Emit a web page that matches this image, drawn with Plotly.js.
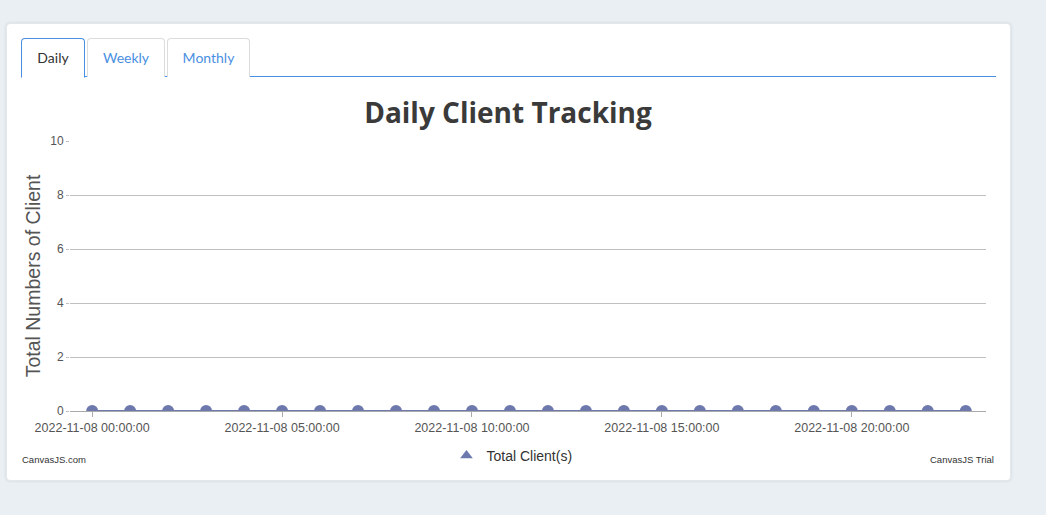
<!DOCTYPE html>
<html>
<head>
<meta charset="utf-8">
<script src="https://cdn.plot.ly/plotly-3.0.1.min.js"></script>
<style>
  html, body { margin:0; padding:0; width:1046px; height:515px; background:#e9eff3; overflow:hidden; font-family:"Lato","Open Sans",sans-serif; }
  #card { position:absolute; left:6px; top:23px; width:1005px; height:458px; background:#fff; border-radius:4px; box-shadow:0 0 3px rgba(0,0,0,0.12); border:1px solid #e3e8ec; box-sizing:border-box; }
  .tab { position:absolute; top:38px; height:39px; box-sizing:border-box; border:1px solid #dcdcdc; border-bottom:none; border-radius:4px 4px 0 0; font-size:14px; color:#4a90e2; text-align:center; line-height:38px; background:#fff; }
  .tab.active { border:1px solid #4a90e2; border-bottom:1px solid #fff; color:#333; z-index:2; height:40px; }
  #tabline { position:absolute; left:21px; top:76px; width:975px; height:1px; background:#4a90e2; }
  #chart { position:absolute; left:20px; top:80px; width:976px; height:400px; }
</style>
</head>
<body>
<div id="card"></div>
<div id="tabline"></div>
<div class="tab active" style="left:21px;width:64px;">Daily</div>
<div class="tab" style="left:87px;width:78px;">Weekly</div>
<div class="tab" style="left:167px;width:83px;">Monthly</div>
<div id="chart"></div>
<script>
const hours = ["2022-11-08 00:00:00","2022-11-08 01:00:00","2022-11-08 02:00:00","2022-11-08 03:00:00",
  "2022-11-08 04:00:00","2022-11-08 05:00:00","2022-11-08 06:00:00","2022-11-08 07:00:00",
  "2022-11-08 08:00:00","2022-11-08 09:00:00","2022-11-08 10:00:00","2022-11-08 11:00:00",
  "2022-11-08 12:00:00","2022-11-08 13:00:00","2022-11-08 14:00:00","2022-11-08 15:00:00",
  "2022-11-08 16:00:00","2022-11-08 17:00:00","2022-11-08 18:00:00","2022-11-08 19:00:00",
  "2022-11-08 20:00:00","2022-11-08 21:00:00","2022-11-08 22:00:00","2022-11-08 23:00:00"];
const totalClients = [0,0,0,0,0,0,0,0,0,0,0,0,0,0,0,0,0,0,0,0,0,0,0,0];
const seriesName = "Total Client(s)";
const chartTitle = "Daily Client Tracking";
const yTitle = "Total Numbers of Client";
const xRange = ["2022-11-07 23:25:00", "2022-11-08 23:32:00"];
const yRange = [0, 10];

const color = "#6D78AD";
const traces = [
  { x: hours, y: totalClients, type: "scatter", mode: "lines+markers", name: seriesName,
    line: { color: color, width: 2 }, marker: { color: color, size: 12, symbol: "circle" },
    showlegend: false, cliponaxis: true },
  { x: [hours[0]], y: [null], type: "scatter", mode: "markers", name: seriesName,
    marker: { color: color, size: 11, symbol: "triangle-up" }, showlegend: true }
];
const layout = {
  width: 976, height: 400,
  margin: { l: 50, r: 10, t: 61, b: 69, autoexpand: false },
  paper_bgcolor: "rgba(0,0,0,0)", plot_bgcolor: "rgba(0,0,0,0)",
  font: { family: "Liberation Sans, Arial, sans-serif", color: "#555", size: 12 },
  title: { text: chartTitle, x: 0.5, xanchor: "center", yref: "container", y: 1 - 33/400, yanchor: "middle",
    font: { family: "Open Sans, sans-serif", size: 28, color: "#3a3a3a", weight: 700 } },
  xaxis: { type: "date", range: xRange, tick0: "2022-11-08 00:00:00", dtick: 18000000,
    tickformat: "%Y-%m-%d %H:%M:%S", showgrid: false, zeroline: false,
    showline: true, linecolor: "#aaa", linewidth: 1, ticks: "outside", ticklen: 5, tickcolor: "#aaa",
    tickfont: { size: 12.5, color: "#555" }, fixedrange: true, automargin: false },
  yaxis: { range: yRange, dtick: 2, showgrid: true, gridcolor: "#c0c0c0", gridwidth: 1, zeroline: false,
    showline: false, ticks: "outside", ticklen: 3, tickcolor: "#c0c0c0",
    tickfont: { size: 12, color: "#555" }, automargin: false,
    title: { text: yTitle, font: { size: 19.5, color: "#555" }, standoff: 4 }, fixedrange: true },
  legend: { orientation: "h", x: 0.4825, xanchor: "center", y: -0.1667, yanchor: "middle",
    font: { size: 14, color: "#333" }, itemwidth: 30 },
  showlegend: true,
  annotations: [
    { text: "CanvasJS.com", xref: "paper", yref: "paper", x: -0.055, y: -0.181, xanchor: "left", yanchor: "middle",
      showarrow: false, font: { size: 9.5, color: "#333" } },
    { text: "CanvasJS Trial", xref: "paper", yref: "paper", x: 1.011, y: -0.181, xanchor: "right", yanchor: "middle",
      showarrow: false, font: { size: 9.5, color: "#333" } }
  ]
};
Plotly.newPlot("chart", traces, layout, { displayModeBar: false, staticPlot: true });
</script>
</body>
</html>
